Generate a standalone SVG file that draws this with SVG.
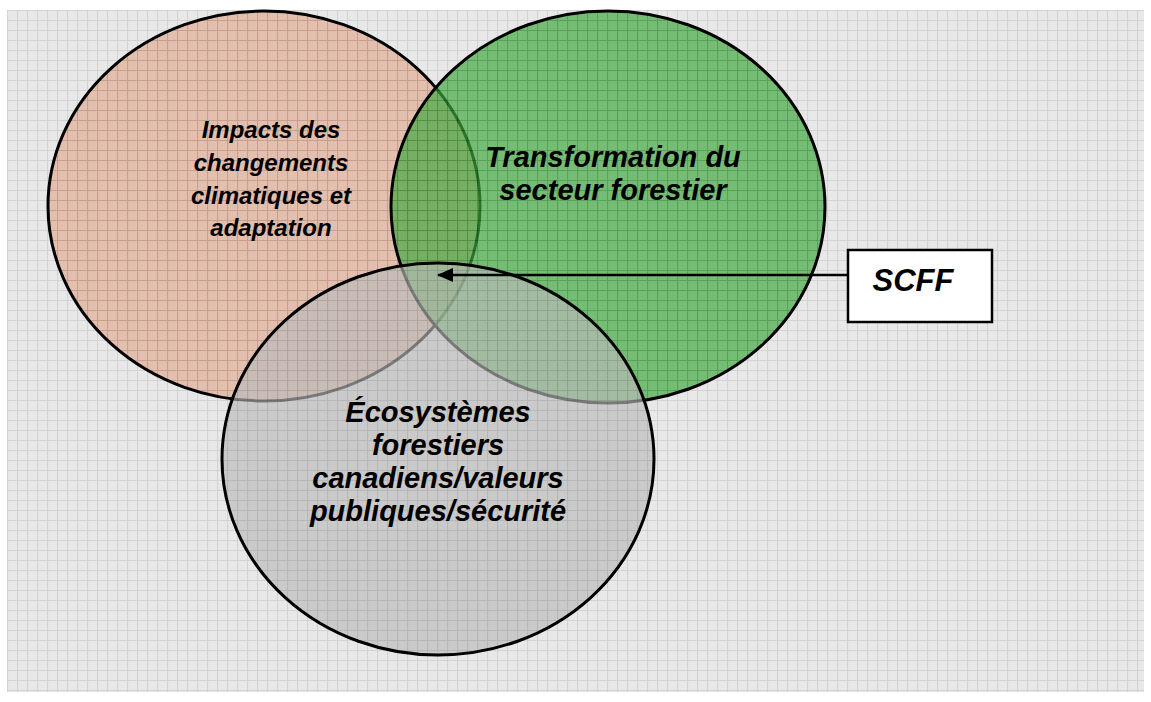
<svg xmlns="http://www.w3.org/2000/svg" width="1151" height="702" viewBox="0 0 1151 702">
<style>
.lbl{font-family:"Liberation Sans",Arial,sans-serif;font-weight:bold;font-style:italic;font-size:29px;fill:#000;text-anchor:middle}
.sm{font-size:24px}
.circ{stroke:#000;stroke-width:3}
</style>
<defs>
<pattern id="grid" width="10" height="10" patternUnits="userSpaceOnUse" x="7" y="10">
<rect width="10" height="10" fill="#e8e8e8"/>
<path d="M0 0.5H10M0.5 0V10" stroke="#d3d3d3" stroke-width="1.2"/>
</pattern>
<pattern id="redp" width="10" height="10" patternUnits="userSpaceOnUse" x="7" y="10">
<rect width="10" height="10" fill="#dfa48b"/>
<path d="M0 0.5H10M0.5 0V10" stroke="#c07a5c" stroke-width="1.2"/>
</pattern>
<pattern id="greenp" width="10" height="10" patternUnits="userSpaceOnUse" x="7" y="10">
<rect width="10" height="10" fill="#3fa83f"/>
<path d="M0 0.5H10M0.5 0V10" stroke="#1f8a1f" stroke-width="1.2"/>
</pattern>
<pattern id="grayp" width="10" height="10" patternUnits="userSpaceOnUse" x="7" y="10">
<rect width="10" height="10" fill="#bababa"/>
<path d="M0 0.5H10M0.5 0V10" stroke="#a8a8a8" stroke-width="1.2"/>
</pattern>
<marker id="arr" markerWidth="16" markerHeight="16" refX="15" refY="8" orient="auto" markerUnits="userSpaceOnUse" viewBox="0 0 16 16">
<path d="M0 1L16 8L0 15z" fill="#000"/>
</marker>
</defs>
<rect width="1151" height="702" fill="#fff"/>
<rect x="7" y="10" width="1137" height="682" fill="url(#grid)"/>
<g id="impacts">
<ellipse class="circ" cx="264" cy="206" rx="216" ry="195" fill="url(#redp)" fill-opacity="0.6"/>
</g>
<g id="transformation">
<ellipse class="circ" cx="608" cy="207" rx="217" ry="196" fill="url(#greenp)" fill-opacity="0.68"/>
</g>
<g id="ecosystemes">
<ellipse class="circ" cx="438" cy="459" rx="216" ry="196" fill="url(#grayp)" fill-opacity="0.65"/>
</g>
<g id="impacts-label">
<text class="lbl sm" x="271" y="138">Impacts des</text>
<text class="lbl sm" x="271" y="171">changements</text>
<text class="lbl sm" x="271" y="204">climatiques et</text>
<text class="lbl sm" x="271" y="236">adaptation</text>
</g>
<g id="transformation-label">
<text class="lbl" x="613" y="167">Transformation du</text>
<text class="lbl" x="613" y="200">secteur forestier</text>
</g>
<g id="ecosystemes-label">
<text class="lbl" x="438" y="422">Écosystèmes</text>
<text class="lbl" x="438" y="455">forestiers</text>
<text class="lbl" x="438" y="488">canadiens/valeurs</text>
<text class="lbl" x="438" y="521">publiques/sécurité</text>
</g>
<g id="scff">
<rect x="848" y="250" width="144" height="72" fill="#fff" stroke="#000" stroke-width="2.5"/>
<text class="lbl" x="913" y="291" style="font-size:31px">SCFF</text>
</g>
<g id="connectors">
<line x1="848" y1="275" x2="438" y2="275" stroke="#000" stroke-width="2.5" marker-end="url(#arr)"/>
</g>
</svg>
